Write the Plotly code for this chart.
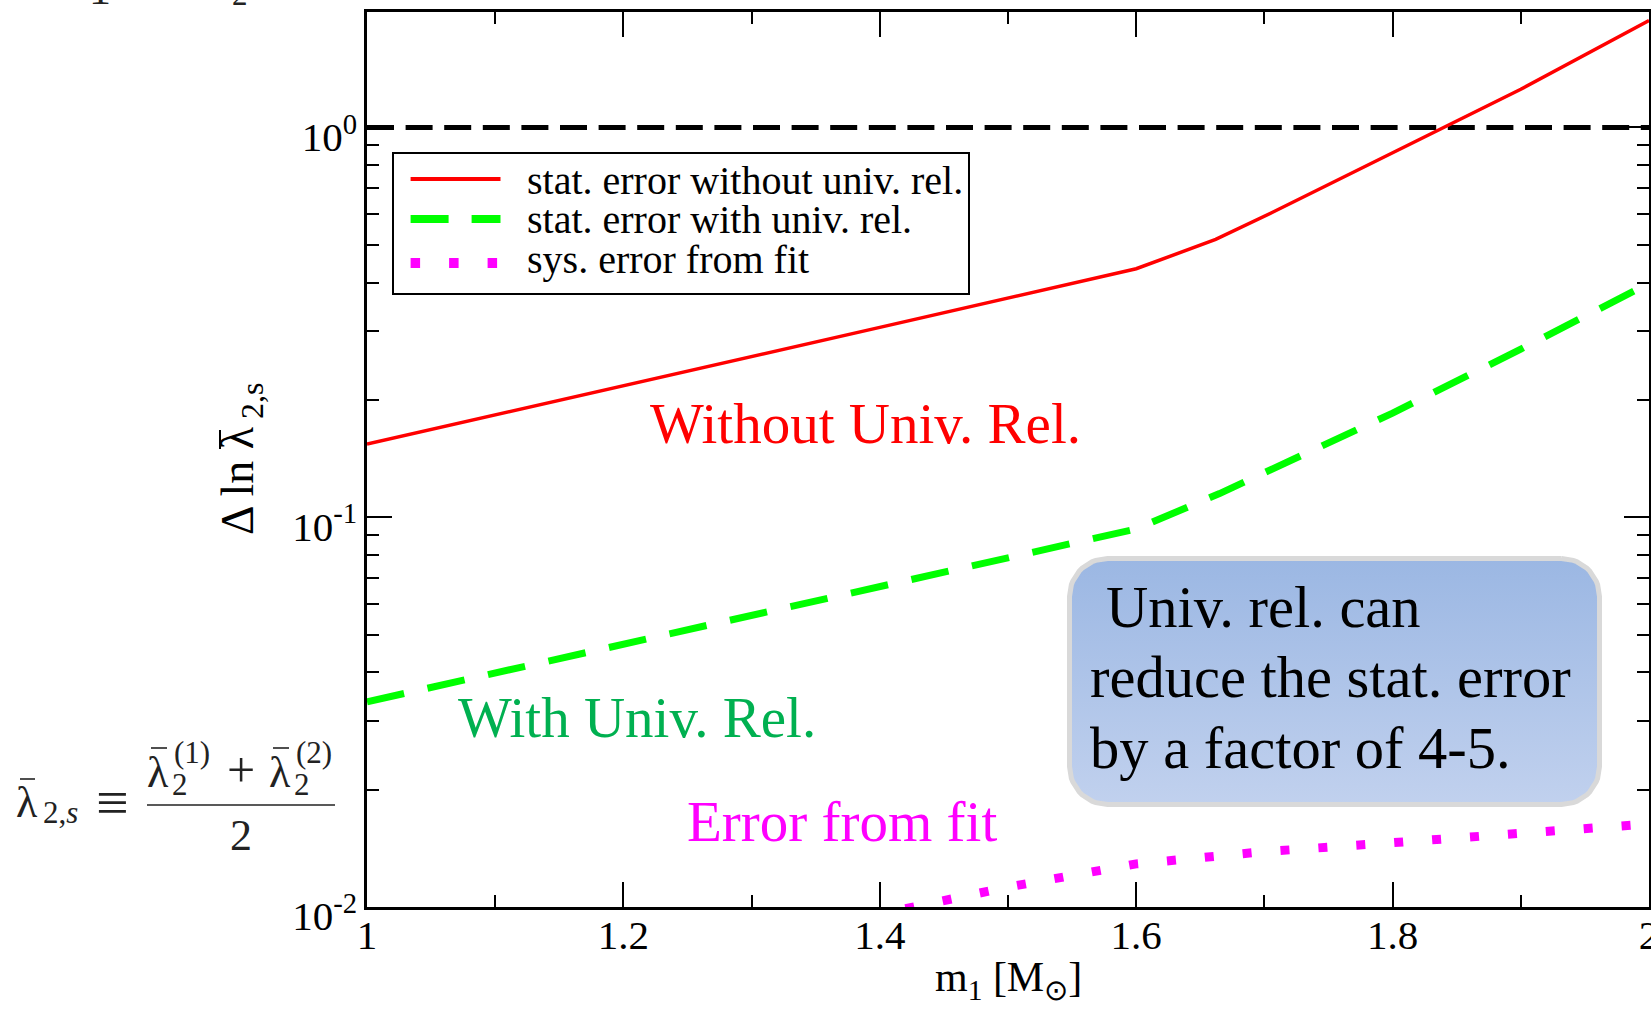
import numpy as np
import plotly.graph_objects as go

# ---------------- data ----------------
m_red = [1.0, 1.2, 1.4, 1.6, 1.662, 1.706, 1.8, 1.9, 2.0]
err_without_ur = [0.154, 0.217, 0.307, 0.434, 0.516, 0.605, 0.861, 1.253, 1.88]

m_green = [1.0, 1.2, 1.4, 1.6, 1.665, 1.7, 1.8, 1.9, 2.0]
err_with_ur = [0.0336, 0.0472, 0.0664, 0.0933, 0.115, 0.130, 0.185, 0.270, 0.398]

m_fit = [1.42, 1.5, 1.6, 1.7, 1.8, 1.9, 2.0]
err_fit = [0.0099, 0.01125, 0.0129, 0.01387, 0.01462, 0.01543, 0.01634]

ref_level = 1.0
x_range = [1.0, 2.0]
y_log_range = [-2.0, 0.2962]

x_major = [1.0, 1.2, 1.4, 1.6, 1.8, 2.0]
x_major_text = ["1", "1.2", "1.4", "1.6", "1.8", "2"]
x_minor = [1.1, 1.3, 1.5, 1.7, 1.9]
y_major = [0.01, 0.1, 1.0]
y_major_text = ["10<sup>-2</sup>", "10<sup>-1</sup>", "10<sup>0</sup>"]
y_minor = [k * 10.0 ** e for e in (-2, -1) for k in range(2, 10)]

legend_labels = ["stat. error without univ. rel.",
                 "stat. error with univ. rel.",
                 "sys. error from fit"]

# ---------------- layout geometry (pixels) ----------------
W, H = 1651, 1011
L, R, T, B = 367, 1649, 12, 907
FONT = "Liberation Serif"


def xp(px):
    return (px - L) / (R - L)


def yp(py):
    return (B - py) / (B - T)


fig = go.Figure()

# reference line at unity
fig.add_trace(go.Scatter(x=x_range, y=[ref_level, ref_level], mode="lines",
                         line=dict(color="black", width=5, dash="27px,11.6px"),
                         hoverinfo="skip", showlegend=False))
fig.add_trace(go.Scatter(x=m_red, y=err_without_ur, mode="lines",
                         line=dict(color="#ff0000", width=3.5),
                         name=legend_labels[0], showlegend=False))
fig.add_trace(go.Scatter(x=m_green, y=err_with_ur, mode="lines",
                         line=dict(color="#00ff00", width=7, dash="38px,24px"),
                         name=legend_labels[1], showlegend=False))
fig.add_trace(go.Scatter(x=m_fit, y=err_fit, mode="lines",
                         line=dict(color="#ff00ff", width=9, dash="9px,29px"),
                         name=legend_labels[2], showlegend=False))


# rounded, gradient-filled note box (drawn on a pixel-space overlay axis)
def rounded_rect(x0, y0, x1, y1, r, n=16):
    xs, ys = [], []
    corners = [(x1 - r, y0 + r, -90, 0), (x1 - r, y1 - r, 0, 90),
               (x0 + r, y1 - r, 90, 180), (x0 + r, y0 + r, 180, 270)]
    for cx, cy, a0, a1 in corners:
        for a in np.linspace(np.radians(a0), np.radians(a1), n):
            xs.append(cx + r * np.cos(a))
            ys.append(cy + r * np.sin(a))
    xs.append(xs[0])
    ys.append(ys[0])
    return xs, ys


bx, by = rounded_rect(1069.5, 558.5, 1599.5, 804.5, 38)
fig.add_trace(go.Scatter(x=bx, y=by, xaxis="x2", yaxis="y2", mode="lines",
                         fill="toself",
                         fillgradient=dict(type="vertical", start=558, stop=805,
                                           colorscale=[[0, "#9bb7e3"], [1, "#c1d1ee"]]),
                         line=dict(color="#d9d9d9", width=5),
                         hoverinfo="skip", showlegend=False))

axis_common = dict(showline=True, linecolor="black", linewidth=2.5, mirror="ticks",
                   ticks="inside", ticklen=25, tickwidth=2, tickcolor="black",
                   showgrid=False, zeroline=False, automargin=False,
                   ticklabeloverflow="allow",
                   tickfont=dict(family=FONT, size=41, color="black"))

fig.update_layout(
    width=W, height=H,
    margin=dict(l=L, r=W - R, t=T, b=H - B, pad=0),
    paper_bgcolor="white", plot_bgcolor="white",
    template="none",
    showlegend=False,
    xaxis=dict(range=x_range, tickmode="array", tickvals=x_major, ticktext=x_major_text,
               ticklabelstandoff=-10,
               minor=dict(tickmode="array", tickvals=x_minor, ticks="inside", ticklen=12.5,
                          tickwidth=2, tickcolor="black"),
               **axis_common),
    yaxis=dict(type="log", range=y_log_range, tickmode="array", tickvals=y_major,
               ticktext=y_major_text, ticklabelshift=9, ticklabelstandoff=-1,
               minor=dict(tickmode="array", tickvals=y_minor, ticks="inside", ticklen=12.5,
                          tickwidth=2, tickcolor="black"),
               **axis_common),
    xaxis2=dict(overlaying="x", range=[L, R], visible=False, fixedrange=True),
    yaxis2=dict(overlaying="y", range=[B, T], visible=False, fixedrange=True),
)

annotations = []
shapes = []


def text(px, py, s, size, color="black", xanchor="center", angle=0, family=FONT):
    annotations.append(dict(x=xp(px), y=yp(py), xref="paper", yref="paper", text=s,
                            showarrow=False, xanchor=xanchor, yanchor="middle",
                            textangle=angle,
                            font=dict(family=family, size=size, color=color)))


def bar(x0, y0, x1, y1, color="black", width=1.6):
    shapes.append(dict(type="line", xref="paper", yref="paper", x0=xp(x0), x1=xp(x1),
                       y0=yp(y0), y1=yp(y1), line=dict(color=color, width=width),
                       layer="above"))


# curve labels
text(865, 424, "Without Univ. Rel.", 57, "#ff0000")
text(637, 717, "With Univ. Rel.", 57, "#00b050")
text(842, 821, "Error from fit", 57, "#ff00ff")

# note box text
text(1104, 607, "Univ. rel. can", 58.5, xanchor="left")
text(1088, 677, "reduce the stat. error", 58.5, xanchor="left")
text(1088, 748, "by a factor of 4-5.", 58.5, xanchor="left")

# legend
shapes.append(dict(type="rect", xref="paper", yref="paper", x0=xp(393), x1=xp(969),
                   y0=yp(153), y1=yp(294), line=dict(color="black", width=2),
                   fillcolor="white", layer="above"))
legend_styles = [dict(color="#ff0000", width=4, dash="solid"),
                 dict(color="#00ff00", width=8, dash="38px,23px"),
                 dict(color="#ff00ff", width=10, dash="9.5px,29px")]
legend_rows = [179, 219, 263]
for sty, row in zip(legend_styles, legend_rows):
    shapes.append(dict(type="line", xref="paper", yref="paper", x0=xp(410.6), x1=xp(500.5),
                       y0=yp(row), y1=yp(row), line=sty, layer="above"))
for lab, row in zip(legend_labels, [180, 220, 259]):
    text(525, row, lab, 40, xanchor="left")

# axis titles
text(1008, 980, "m<sub>1</sub> [M<sub>⊙</sub>]", 42)
text(238, 481, "Δ ln λ", 46, angle=-90)
text(252, 401, "2,s", 32, angle=-90)
bar(220, 430, 220, 449, "black", 2)

# definition of the symmetric tidal parameter
ink = "#222222"
text(27, 802, "λ", 44, ink)
bar(20, 779, 35, 779, ink)
text(60, 812, "2,<i>s</i>", 31, ink)
text(112, 802, "≡", 58, ink)
text(158, 772, "λ", 44, ink)
bar(151, 748, 167, 748, ink)
text(180, 784, "2", 31, ink)
text(192, 752, "(1)", 31, ink)
text(241, 770, "+", 50, ink)
text(280, 772, "λ", 44, ink)
bar(273, 748, 289, 748, ink)
text(302, 784, "2", 31, ink)
text(314, 752, "(2)", 31, ink)
text(241, 835, "2", 44, ink)
bar(147, 805, 335, 805, ink, 1.5)

# lower edge of the preceding line of text
text(100, -10, "1", 44, ink)
text(240, -5, "2", 31, ink)

fig.update_layout(annotations=annotations, shapes=shapes)
fig.write_html("out.html")
